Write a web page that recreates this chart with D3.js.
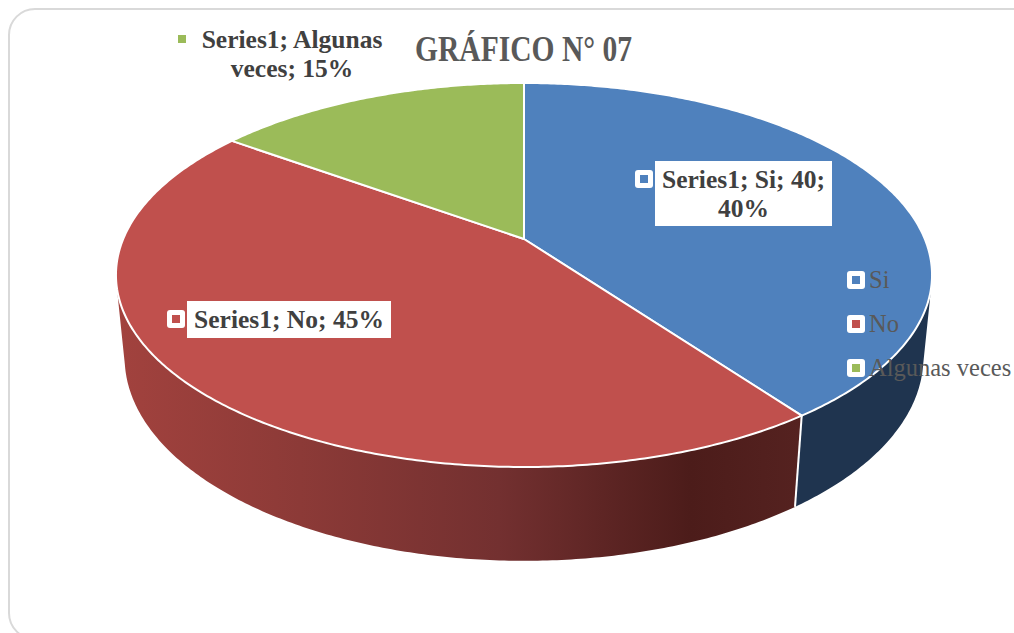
<!DOCTYPE html>
<html>
<head>
<meta charset="utf-8">
<style>
  html,body{margin:0;padding:0;background:#fff;overflow:hidden;}
  text{font-family:'Liberation Serif',serif;}
  .label{font-weight:bold;font-size:25.5px;fill:#404040;text-anchor:middle;}
  .legend{font-size:24.5px;fill:#595959;}
  .title{font-weight:bold;font-size:36px;fill:#595959;text-anchor:middle;}
</style>
</head>
<body>
<div id="canvas"></div>
<script src="https://cdn.jsdelivr.net/npm/d3@7"></script>
<script>
var titleText = 'GRÁFICO N° 07';
var categories = ['Si','No','Algunas veces'];
var values = [40,45,15];
var labelLines = [
  ['Series1; Si; 40;','40%'],
  ['Series1; No; 45%'],
  ['Series1; Algunas','veces; 15%']
];

var W = 1014, H = 633;

var svg = d3.select('#canvas').append('svg')
    .attr('width',W)
    .attr('height',H);

var defs = svg.append('defs');

//wall shading, red side gets darker going right
var redGrad = defs.append('linearGradient')
    .attr('id','redWall')
    .attr('gradientUnits','userSpaceOnUse')
    .attr('x1',116).attr('x2',800).attr('y1',0).attr('y2',0);
redGrad.selectAll('stop')
    .data([[0,'#a2423e'],[0.27,'#8c3a37'],[0.56,'#733030'],[0.84,'#4c1c1a'],[1,'#552220']])
    .enter().append('stop')
    .attr('offset',function(d){return d[0]})
    .attr('stop-color',function(d){return d[1]});

var color = d3.scaleOrdinal().domain(categories).range(['#4f81bd','#c0504d','#9bbb59']);
var wallFill = d3.scaleOrdinal().domain(categories).range(['#1f344f','url(#redWall)','none']);

//chart frame, runs off the right and bottom of the page
svg.append('rect')
    .attr('x',9).attr('y',9)
    .attr('width',1200).attr('height',630)
    .attr('rx',26).attr('ry',26)
    .attr('fill','#fff')
    .attr('stroke','#d9d9d9')
    .attr('stroke-width',2);

//perspective projection of the pie disc
var apex = {x:524,y:239};
var p = 0.1875, A = 400.8, B = 185.25;
var depthQ = 0.021, depthC = 83;

function project(angle,bottom){
  var X = Math.sin(angle), Y = -Math.cos(angle);
  var w = 1 - p*Y + (bottom ? depthQ : 0);
  return [apex.x + A*X/w, apex.y + (B*Y + (bottom ? depthC : 0))/w];
}

function arcPoints(a0,a1,bottom){
  var n = Math.max(2,Math.ceil(Math.abs(a1-a0)/0.01));
  return d3.range(n+1).map(function(i){
    return project(a0 + (a1-a0)*i/n,bottom);
  });
}

var line = d3.line();

var pie = d3.pie().sort(null).value(function(d){return d.value});
var slices = pie(categories.map(function(c,i){return {name:c,value:values[i]}}));

//visible part of the wall only, ends on the silhouette
var wallFrom = Math.PI*0.57, wallTo = Math.PI*1.43;

svg.selectAll('.wall')
    .data(slices.filter(function(d){return d.endAngle>wallFrom && d.startAngle<wallTo}))
    .enter()
    .append('path')
    .attr('class','wall')
    .attr('d',function(d){
      var a0 = Math.max(d.startAngle,wallFrom), a1 = Math.min(d.endAngle,wallTo);
      return line(arcPoints(a0,a1,false).concat(arcPoints(a1,a0,true))) + 'Z';
    })
    .attr('fill',function(d){return wallFill(d.data.name)});

//white seam between walls
svg.append('path')
    .attr('d',line([project(slices[0].endAngle,false),project(slices[0].endAngle,true)]))
    .attr('stroke','#fff')
    .attr('stroke-width',2);

//top face
svg.selectAll('.slice')
    .data(slices)
    .enter()
    .append('path')
    .attr('class','slice')
    .attr('d',function(d){
      return line([[apex.x,apex.y]].concat(arcPoints(d.startAngle,d.endAngle,false))) + 'Z';
    })
    .attr('fill',function(d){return color(d.data.name)})
    .attr('stroke','#fff')
    .attr('stroke-width',2)
    .attr('stroke-linejoin','round');

function marker(g,x,y,name){
  g.append('rect')
    .attr('x',x-9).attr('y',y-9)
    .attr('width',18).attr('height',18)
    .attr('rx',3)
    .attr('fill','#fff');
  g.append('rect')
    .attr('x',x-4).attr('y',y-4)
    .attr('width',8).attr('height',8)
    .attr('fill',color(name));
}

//data labels
var labelBox = [
  {x:655,y:161,w:177,h:65,mx:644,my:179,ty:188},
  {x:187,y:301,w:204,h:37,mx:176,my:319,ty:328},
  {x:185,y:28,w:214,h:58,mx:182,my:39,ty:48}
];

var labels = svg.selectAll('.dlabel')
    .data(slices)
    .enter()
    .append('g')
    .attr('class','dlabel');

labels.each(function(d,i){
  var g = d3.select(this), b = labelBox[i];
  g.append('rect')
    .attr('x',b.x).attr('y',b.y)
    .attr('width',b.w).attr('height',b.h)
    .attr('fill','#fff');
  marker(g,b.mx,b.my,d.data.name);
  g.selectAll('text')
    .data(labelLines[i])
    .enter()
    .append('text')
    .attr('class','label')
    .attr('x',b.x+b.w/2)
    .attr('y',function(t,j){return b.ty + j*29})
    .text(function(t){return t});
});

svg.append('text')
    .attr('class','title')
    .attr('x',523.5)
    .attr('y',61)
    .attr('textLength',217)
    .attr('lengthAdjust','spacingAndGlyphs')
    .text(titleText);

//legend
var legendY = d3.scalePoint().domain(categories).range([280,368]);

var legend = svg.selectAll('.leg')
    .data(categories)
    .enter()
    .append('g')
    .attr('class','leg');

legend.each(function(c){
  marker(d3.select(this),856,legendY(c),c);
});

legend.append('text')
    .attr('class','legend')
    .attr('x',869)
    .attr('y',function(c){return legendY(c)+8})
    .text(function(c){return c});
</script>
</body>
</html>
